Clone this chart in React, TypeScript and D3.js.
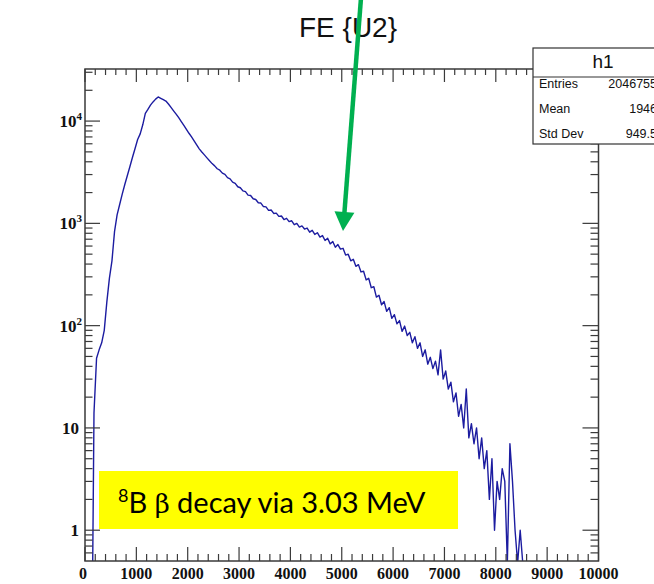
import React from "react";
import * as d3 from "d3";

const binWidth = 50;
const counts = [
  0, 0, 0, 14, 48, 58, 68, 90, 170, 290,
  430, 830, 1210, 1530, 1930, 2400, 2940, 3600, 4430, 5400,
  6600, 7500, 9200, 11900, 13000, 14300, 15400, 16400, 17200, 16700,
  16200, 15700, 14700, 13600, 12600, 11700, 10800, 9900, 9100, 8300,
  7600, 7000, 6400, 5850, 5350, 4980, 4670, 4370, 4090, 3840,
  3650, 3420, 3310, 3100, 3010, 2800, 2720, 2530, 2460, 2280,
  2230, 2080, 2040, 1890, 1870, 1740, 1710, 1590, 1580, 1460,
  1450, 1340, 1350, 1250, 1260, 1170, 1180, 1090, 1120, 1040,
  1060, 970, 1000, 920, 945, 880, 900, 820, 855, 780,
  810, 735, 760, 680, 715, 630, 665, 585, 620, 560,
  570, 490, 500, 430, 445, 380, 395, 335, 340, 280,
  290, 235, 240, 190, 198, 160, 172, 138, 150, 118,
  128, 104, 112, 88, 99, 80, 86, 68, 78, 60,
  68, 50, 58, 42, 49, 38, 45, 33, 58, 30,
  36, 24, 28, 18, 22, 13, 17, 10, 24, 8,
  11, 7, 10, 5, 8, 4, 6, 2, 5, 1,
  3, 2, 4, 3, 0, 7, 3, 1, 0, 1,
  0,
];

const xTickValues = [0, 1000, 2000, 3000, 4000, 5000, 6000, 7000, 8000, 9000, 10000];
const yMajorTicks = [1, 10, 100, 1000, 10000];
const yLabels = [
  { base: "1", exp: "" },
  { base: "10", exp: "" },
  { base: "10", exp: "2" },
  { base: "10", exp: "3" },
  { base: "10", exp: "4" },
];
const statsRows = [
  { name: "Entries", value: "2046755" },
  { name: "Mean", value: "1946" },
  { name: "Std Dev", value: "949.5" },
];
const titleText = "FE {U2}";
const histName = "h1";

const L = 85, R = 598.5, T = 69, B = 561;

export default function App() {
  const x = d3.scaleLinear().domain([0, 10000]).range([L, R]);
  const y = d3.scaleLog().domain([0.5, 32300]).range([B, T]);
  const yv = (c: number) => (c <= 0.5 ? B + 2 : y(c));

  const firstNZ = counts.findIndex((c) => c > 0);
  const pts: [number, number][] = [[x(0), B + 2], [x(firstNZ * binWidth), B + 2]];
  counts.forEach((c, i) => {
    if (i < firstNZ) return;
    pts.push([x((i + 0.5) * binWidth), yv(c)]);
  });
  pts.push([x(counts.length * binWidth), B + 2]);
  const histPath = d3.line()(pts) || "";

  const frameColor = "#3a3a3a";
  const xMinor = d3.range(0, 10001, 200);
  const yMinor: number[] = [];
  [0.6, 0.7, 0.8, 0.9].forEach((v) => yMinor.push(v));
  for (let e = 0; e <= 4; e++) {
    for (let m = 2; m <= 9; m++) {
      const v = m * Math.pow(10, e);
      if (v <= 32300) yMinor.push(v);
    }
  }

  // arrow geometry
  const ax0 = 361, ay0 = -2, ax1 = 343, ay1 = 231;
  const dx = ax1 - ax0, dy = ay1 - ay0;
  const len = Math.hypot(dx, dy);
  const ux = dx / len, uy = dy / len;
  const headLen = 19, headW = 10;
  const bx = ax1 - ux * headLen, by = ay1 - uy * headLen;
  const px = -uy, py = ux;
  const head = `M${ax1},${ay1} L${bx + px * headW},${by + py * headW} L${bx - px * headW},${by - py * headW} Z`;

  const serif = "'Liberation Serif', 'Times New Roman', serif";
  const sans = "'Liberation Sans', Arial, Helvetica, sans-serif";

  return (
    <svg
      width={654}
      height={584}
      style={{ position: "absolute", left: 0, top: 0, background: "#fff" }}
    >
      <defs>
        <clipPath id="frameClip">
          <rect x={L} y={T} width={R - L} height={B - T} />
        </clipPath>
      </defs>
      <rect x={0} y={0} width={654} height={584} fill="#fff" />

      {/* histogram */}
      <path
        d={histPath}
        fill="none"
        stroke="#1c1ca0"
        strokeWidth={1.4}
        strokeLinejoin="round"
        clipPath="url(#frameClip)"
      />

      {/* frame */}
      <rect x={L} y={T} width={R - L} height={B - T} fill="none" stroke={frameColor} strokeWidth={1.5} />

      {xMinor.map((v) => {
        const major = v % 1000 === 0;
        const len2 = major ? 14 : 7;
        return (
          <g key={"xt" + v} stroke={frameColor} strokeWidth={1.2}>
            <line x1={x(v)} x2={x(v)} y1={B} y2={B - len2} />
            <line x1={x(v)} x2={x(v)} y1={T} y2={T + (major ? 13 : 6)} />
          </g>
        );
      })}
      {yMajorTicks.map((v) => (
        <g key={"ym" + v} stroke={frameColor} strokeWidth={1.2}>
          <line x1={L} x2={L + 15} y1={y(v)} y2={y(v)} />
          <line x1={R} x2={R - 16} y1={y(v)} y2={y(v)} />
        </g>
      ))}
      {yMinor.map((v) => (
        <g key={"yn" + v} stroke={frameColor} strokeWidth={1.2}>
          <line x1={L} x2={L + 7.5} y1={y(v)} y2={y(v)} />
          <line x1={R} x2={R - 8} y1={y(v)} y2={y(v)} />
        </g>
      ))}

      {xTickValues.map((v) => (
        <text
          key={"xl" + v}
          x={v === 0 ? x(v) - 2 : x(v)}
          y={579}
          textAnchor="middle"
          fontFamily={serif}
          fontWeight="bold"
          fontSize={16}
          fill="#111"
        >
          {v}
        </text>
      ))}
      {yMajorTicks.map((v, i) => (
        <text
          key={"yl" + v}
          x={yLabels[i].exp ? 82 : 79}
          y={y(v) + 6}
          textAnchor="end"
          fontFamily={serif}
          fontWeight="bold"
          fontSize={17}
          fill="#111"
        >
          {yLabels[i].base}
          {yLabels[i].exp ? (
            <tspan fontSize={11} dy={-7}>
              {yLabels[i].exp}
            </tspan>
          ) : null}
        </text>
      ))}

      {/* yellow annotation */}
      <rect x={99} y={471} width={359} height={58} fill="#ffff00" />
      <text x={118} y={513} fontFamily="Lato, 'Open Sans', sans-serif" fontSize={29} fill="#000">
        <tspan fontSize={18} dy={-11}>8</tspan>
        <tspan dy={11}>B </tspan>
        <tspan fontFamily="'DejaVu Serif', serif" fontSize={26}>β</tspan>
        <tspan> decay via 3.03 MeV</tspan>
      </text>

      {/* stats box */}
      <rect x={533} y={48} width={140} height={96} fill="#fff" stroke="#333" strokeWidth={1.2} />
      <line x1={533} x2={660} y1={77} y2={77} stroke="#333" strokeWidth={1.2} />
      <text x={603} y={68} textAnchor="middle" fontFamily={sans} fontSize={19} fill="#111">
        {histName}
      </text>
      {statsRows.map((r, i) => (
        <g key={r.name}>
          <text x={539} y={88 + i * 25} fontFamily={sans} fontSize={12.5} fill="#111">
            {r.name}
          </text>
          <text x={657} y={88 + i * 25} textAnchor="end" fontFamily={sans} fontSize={12.5} fill="#111">
            {r.value}
          </text>
        </g>
      ))}

      {/* title */}
      <text x={348} y={37} textAnchor="middle" fontFamily={sans} fontSize={28} fill="#111">
        {titleText}
      </text>

      {/* green arrow */}
      <line x1={ax0} y1={ay0} x2={bx + ux * 2} y2={by + uy * 2} stroke="#00b050" strokeWidth={4.5} />
      <path d={head} fill="#00b050" />
    </svg>
  );
}
